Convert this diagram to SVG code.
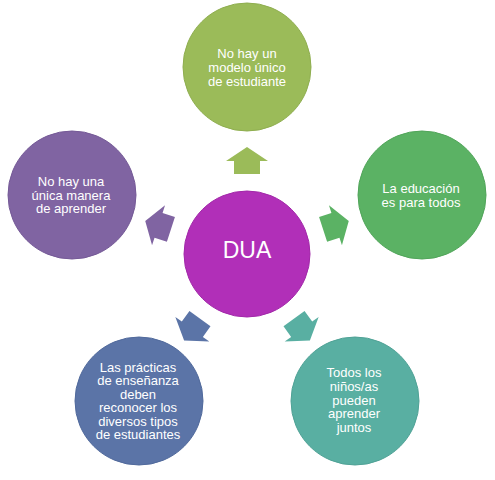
<svg xmlns="http://www.w3.org/2000/svg" xmlns:xlink="http://www.w3.org/1999/xlink" width="495" height="480" viewBox="0 0 495 480">
<style>
  .lbl { font-family: "Liberation Sans", Arial, sans-serif; font-size: 13px; fill: #ffffff; text-anchor: middle; }
  .big { font-family: "Liberation Sans", Arial, sans-serif; font-size: 23px; fill: #ffffff; text-anchor: middle; }
  .c-top { fill: #9bbb59; stroke: #8fae50; }
  .c-right { fill: #5bb264; stroke: #51a55a; }
  .c-br { fill: #59afa2; stroke: #50a296; }
  .c-bl { fill: #5b74a7; stroke: #516a9c; }
  .c-left { fill: #8064a2; stroke: #755a97; }
  .c-center { fill: #b12fb8; stroke: #a228a9; }
  circle { stroke-width: 1; }
</style>
<defs>
  <path id="arr" d="M247,147 L268,161 L260,161 L260,174 L234,174 L234,161 L226,161 Z"/>
</defs>
<rect width="495" height="480" fill="#ffffff"/>
<g id="connectors">
  <use xlink:href="#arr" href="#arr" fill="#9bbb59"/>
  <use xlink:href="#arr" href="#arr" fill="#5bb264" transform="rotate(72 247 254)"/>
  <use xlink:href="#arr" href="#arr" fill="#59afa2" transform="rotate(144 247 254)"/>
  <use xlink:href="#arr" href="#arr" fill="#5b74a7" transform="rotate(216 247 254)"/>
  <use xlink:href="#arr" href="#arr" fill="#8064a2" transform="rotate(288 247 254)"/>
</g>
<g id="node-center">
  <circle class="c-center" cx="247" cy="254" r="63"/>
  <text class="big" x="247" y="258">DUA</text>
</g>
<g id="node-top">
  <circle class="c-top" cx="247" cy="67" r="64"/>
  <text class="lbl" x="247" y="58">No hay un</text>
  <text class="lbl" x="247" y="72">modelo único</text>
  <text class="lbl" x="247" y="86">de estudiante</text>
</g>
<g id="node-right">
  <circle class="c-right" cx="422" cy="195" r="64"/>
  <text class="lbl" x="421" y="193">La educación</text>
  <text class="lbl" x="421" y="207">es para todos</text>
</g>
<g id="node-bottom-right">
  <circle class="c-br" cx="355" cy="401" r="64"/>
  <text class="lbl" x="354" y="377">Todos los</text>
  <text class="lbl" x="354" y="391">niños/as</text>
  <text class="lbl" x="354" y="404.5">pueden</text>
  <text class="lbl" x="354" y="418">aprender</text>
  <text class="lbl" x="354" y="431.5">juntos</text>
</g>
<g id="node-bottom-left">
  <circle class="c-bl" cx="139" cy="401" r="64"/>
  <text class="lbl" x="138" y="371.5">Las prácticas</text>
  <text class="lbl" x="138" y="385">de enseñanza</text>
  <text class="lbl" x="138" y="398.5">deben</text>
  <text class="lbl" x="138" y="412">reconocer los</text>
  <text class="lbl" x="138" y="425.5">diversos tipos</text>
  <text class="lbl" x="138" y="439">de estudiantes</text>
</g>
<g id="node-left">
  <circle class="c-left" cx="72" cy="195" r="64"/>
  <text class="lbl" x="71" y="186">No hay una</text>
  <text class="lbl" x="71" y="199.5">única manera</text>
  <text class="lbl" x="71" y="213">de aprender</text>
</g>
</svg>
